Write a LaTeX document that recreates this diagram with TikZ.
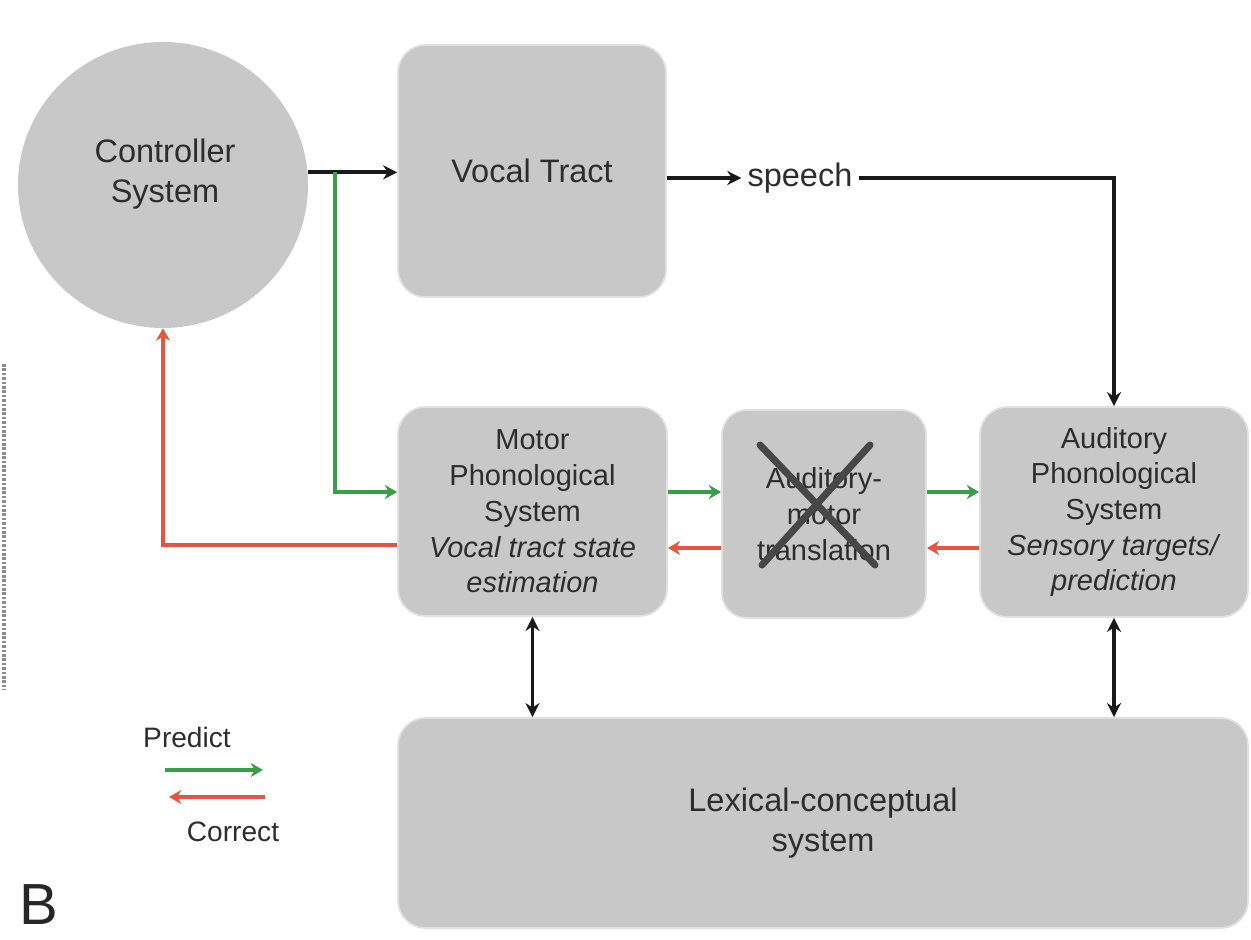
\documentclass[tikz,border=0pt]{standalone}
\usepackage{fontspec}
\setmainfont{Liberation Sans}
\usetikzlibrary{shapes.geometric,arrows.meta}
\definecolor{boxgray}{RGB}{200,200,200}
\definecolor{txtgray}{RGB}{45,45,45}
\definecolor{predgreen}{RGB}{56,158,72}
\definecolor{corrred}{RGB}{232,85,62}
\begin{document}
\begin{tikzpicture}[
    ctrl/.style={ellipse, fill=boxgray, minimum width=5.8cm, minimum height=5.72cm, inner sep=0pt},
    sysbox/.style={rectangle, rounded corners=0.55cm, fill=boxgray, draw=black!12, line width=1pt, inner sep=0pt, align=center, text=txtgray},
    bigtxt/.style={font=\fontsize{18.5}{22.5}\selectfont, text=txtgray, align=center},
    smalltxt/.style={font=\fontsize{16.5}{20.3}\selectfont},
    blk/.style={->, >={Stealth[length=8pt, width=8pt]}, line width=2.1pt, draw=black!90},
    dbl/.style={<->, >={Stealth[length=8pt, width=8pt]}, line width=2.1pt, draw=black!90},
    grn/.style={->, >={Stealth[length=7pt, width=8pt]}, line width=1.8pt, draw=predgreen},
    red/.style={->, >={Stealth[length=7pt, width=8pt]}, line width=1.8pt, draw=corrred},
    cross/.style={line width=4pt, draw=black!72, line cap=round},
]
\useasboundingbox (0,0) rectangle (25.02,18.78);
% left-edge trace of the neighbouring panel
\draw[black!45, line width=2pt, dash pattern=on 1.5pt off 1pt] (0.08,11.5) -- (0.08,4.98);
% blocks
\node[ctrl] (ctrl) at (3.26,15.08) {};
\node[bigtxt] (ctrltxt) at (3.3,15.3) {Controller\\System};
\node[sysbox, bigtxt, minimum width=5.36cm, minimum height=5.04cm] (vt) at (10.64,15.36) {Vocal Tract};
\node[bigtxt] (speech) at (16.0,15.22) {speech};
\node[sysbox, smalltxt, minimum width=5.38cm, minimum height=4.18cm] (motor) at (10.65,8.55)
    {Motor\\Phonological\\System\\\textit{Vocal tract state}\\\textit{estimation}};
\node[sysbox, smalltxt, minimum width=4.08cm, minimum height=4.16cm, rounded corners=0.5cm] (trans) at (16.48,8.5)
    {Auditory-\\motor\\translation};
\node[sysbox, smalltxt, minimum width=5.36cm, minimum height=4.2cm] (aud) at (22.28,8.54)
    {Auditory\\Phonological\\System\\\textit{Sensory targets/}\\\textit{prediction}};
\node[sysbox, bigtxt, minimum width=17.0cm, minimum height=4.2cm] (lex) at (16.46,2.32)
    {Lexical-conceptual\\system};
% crossed-out translation
\draw[cross] (15.2,9.88) -- (17.5,7.48);
\draw[cross] (17.4,9.88) -- (15.24,7.48);
% helper levels
\coordinate (gy) at (0,8.94);
\coordinate (ry) at (0,7.82);
\coordinate (br) at (6.7,15.34);
% connectors
\draw[blk] (ctrl.5) -- (ctrl.5 -| vt.west);
\draw[grn] (br) |- (motor.west |- gy);
\draw[blk] (vt.east |- speech) -- (speech.west);
\draw[blk] (speech.east) -| (aud.north);
\draw[grn] (motor.east |- gy) -- (trans.west |- gy);
\draw[grn] (trans.east |- gy) -- (aud.west |- gy);
\draw[red] (aud.west |- ry) -- (trans.east |- ry);
\draw[red] (trans.west |- ry) -- (motor.east |- ry);
\draw[red] (motor.west |- 0,7.88) -| (ctrl.south);
\draw[dbl] (motor.south) -- (motor.south |- lex.north);
\draw[dbl] (aud.south) -- (aud.south |- lex.north);
% legend
\node[font=\fontsize{16}{19}\selectfont, text=txtgray] (pred) at (3.74,4.04) {Predict};
\node[font=\fontsize{16}{19}\selectfont, text=txtgray] (corr) at (4.66,2.14) {Correct};
\coordinate (lg1) at (3.3,3.38);
\coordinate (lg2) at (5.26,3.38);
\coordinate (lr1) at (5.3,2.84);
\coordinate (lr2) at (3.38,2.84);
\draw[grn, line width=2.4pt] (lg1) -- (lg2);
\draw[red, line width=2.4pt] (lr1) -- (lr2);
\node[font=\fontsize{33}{35}\selectfont, text=black!85, inner sep=0pt, anchor=base] (panel) at (0.78,0.3) {B};
\end{tikzpicture}
\end{document}
